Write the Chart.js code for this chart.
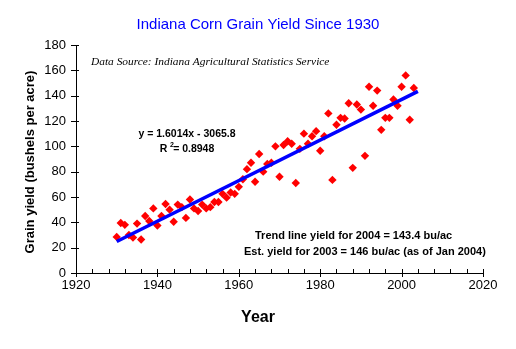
<!DOCTYPE html>
<html>
<head>
<meta charset="utf-8">
<script src="https://cdn.jsdelivr.net/npm/chart.js@4.4.1/dist/chart.umd.min.js"></script>
<style>
  body { margin: 0; background: #fff; }
</style>
</head>
<body>
<canvas id="grafico" width="516" height="349"></canvas>
<script>
// datos
const anios = [1930, 1931, 1932, 1933, 1934, 1935, 1936, 1937, 1938, 1939,
  1940, 1941, 1942, 1943, 1944, 1945, 1946, 1947, 1948, 1949,
  1950, 1951, 1952, 1953, 1954, 1955, 1956, 1957, 1958, 1959,
  1960, 1961, 1962, 1963, 1964, 1965, 1966, 1967, 1968, 1969,
  1970, 1971, 1972, 1973, 1974, 1975, 1976, 1977, 1978, 1979,
  1980, 1981, 1982, 1983, 1984, 1985, 1986, 1987, 1988, 1989,
  1990, 1991, 1992, 1993, 1994, 1995, 1996, 1997, 1998, 1999,
  2000, 2001, 2002, 2003];
const rendimientos = [28.5, 39.5, 38, 30, 28, 39, 26.5, 45, 41, 51,
  37.5, 45, 54.5, 50, 40.5, 54, 52, 43.5, 58, 51,
  49, 54, 51, 52, 56, 56, 62.5, 59.5, 63.5, 62.5,
  68, 74, 82, 87, 72, 94, 80, 86, 87, 100,
  76, 101, 104, 102, 71, 98, 110, 102, 108, 112,
  96.5, 108, 126, 73.5, 117, 122.5, 122, 134, 83, 133,
  129, 92.5, 147, 132, 144, 113, 122.5, 122.5, 137, 132,
  147, 156, 121, 146];
const aniosTendencia = [1930, 2004];
const valoresTendencia = [24.9, 143.4];
const ticksX = [1920, 1940, 1960, 1980, 2000, 2020];
const ticksY = [0, 20, 40, 60, 80, 100, 120, 140, 160, 180];

const puntos = anios.map((a, i) => ({ x: a, y: rendimientos[i] }));
const tendencia = aniosTendencia.map((a, i) => ({ x: a, y: valoresTendencia[i] }));

// marcas de los ejes y textos sueltos
const marcasYTextos = {
  id: 'marcasYTextos',
  afterDraw(chart) {
    const ctx = chart.ctx;
    const sx = chart.scales.x, sy = chart.scales.y;
    const x0 = sx.getPixelForValue(1920);
    const y0 = sy.getPixelForValue(0);
    ctx.save();
    ctx.strokeStyle = '#000';
    ctx.lineWidth = 1;
    ctx.beginPath();
    for (let a = 1920; a <= 2020; a += 4) {
      const px = Math.round(sx.getPixelForValue(a)) + 0.5;
      if (a % 20 === 0) { ctx.moveTo(px, y0 - 4); ctx.lineTo(px, y0 + 4); }
      else { ctx.moveTo(px, y0 - 4); ctx.lineTo(px, y0); }
    }
    ticksY.forEach(v => {
      const py = Math.round(sy.getPixelForValue(v)) + 0.5;
      ctx.moveTo(x0 - 5, py); ctx.lineTo(x0 + 3, py);
    });
    ctx.stroke();

    ctx.textAlign = 'center';
    ctx.textBaseline = 'middle';
    ctx.fillStyle = '#0000ff';
    ctx.font = '15px "Liberation Sans", Arial';
    ctx.fillText('Indiana Corn Grain Yield Since 1930', 258, 25);

    ctx.fillStyle = '#000';
    ctx.font = 'bold 16px "Liberation Sans", Arial';
    ctx.fillText('Year', 258, 318);

    ctx.save();
    ctx.translate(30, 162);
    ctx.rotate(-Math.PI / 2);
    ctx.font = 'bold 13px "Liberation Sans", Arial';
    ctx.fillText('Grain yield (bushels per acre)', 0, 0);
    ctx.restore();

    ctx.textAlign = 'left';
    ctx.font = 'italic 11.4px "Liberation Serif", "Times New Roman"';
    ctx.fillText('Data Source: Indiana Agricultural Statistics Service', 91, 62);

    ctx.textAlign = 'center';
    ctx.font = 'bold 10.5px "Liberation Sans", Arial';
    ctx.fillText('y = 1.6014x - 3065.8', 187, 134);
    ctx.fillText('R  = 0.8948', 187, 149);
    ctx.font = 'bold 7px "Liberation Sans", Arial';
    ctx.fillText('2', 172, 145);

    ctx.textAlign = 'left';
    ctx.font = 'bold 11px "Liberation Sans", Arial';
    ctx.fillText('Trend line yield for 2004 = 143.4 bu/ac', 255, 236);
    ctx.fillText('Est. yield for 2003 = 146 bu/ac (as of Jan 2004)', 244, 252);
    ctx.restore();
  }
};

const grafico = new Chart(document.getElementById('grafico'), {
  type: 'scatter',
  data: {
    datasets: [
      {
        label: 'Tendencia',
        data: tendencia,
        showLine: true,
        borderColor: '#0000ff',
        borderWidth: 3.5,
        pointRadius: 0,
        order: 0
      },
      {
        label: 'Rendimiento',
        data: puntos,
        backgroundColor: '#ff0000',
        borderWidth: 0,
        pointStyle: 'rectRot',
        pointRadius: 4.2,
        order: 1
      }
    ]
  },
  options: {
    responsive: false,
    animation: false,
    layout: { padding: { top: 45, right: 33, left: 0, bottom: 0 } },
    plugins: { legend: { display: false }, tooltip: { enabled: false } },
    scales: {
      x: {
        type: 'linear',
        min: 1920, max: 2020,
        afterFit: s => { s.height = 76; },
        afterBuildTicks: s => { s.ticks = ticksX.map(v => ({ value: v })); },
        ticks: {
          color: '#000', font: { family: '"Liberation Sans", Arial', size: 13 },
          padding: 5, maxRotation: 0,
          callback: v => String(v)
        },
        grid: { display: false, drawTicks: false },
        border: { color: '#000', width: 1 }
      },
      y: {
        min: 0, max: 180,
        afterFit: s => { s.width = 76; },
        afterBuildTicks: s => { s.ticks = ticksY.map(v => ({ value: v })); },
        ticks: { color: '#000', font: { family: '"Liberation Sans", Arial', size: 13 }, padding: 10 },
        grid: { display: false, drawTicks: false },
        border: { color: '#000', width: 1 }
      }
    }
  },
  plugins: [marcasYTextos]
});
</script>
</body>
</html>
